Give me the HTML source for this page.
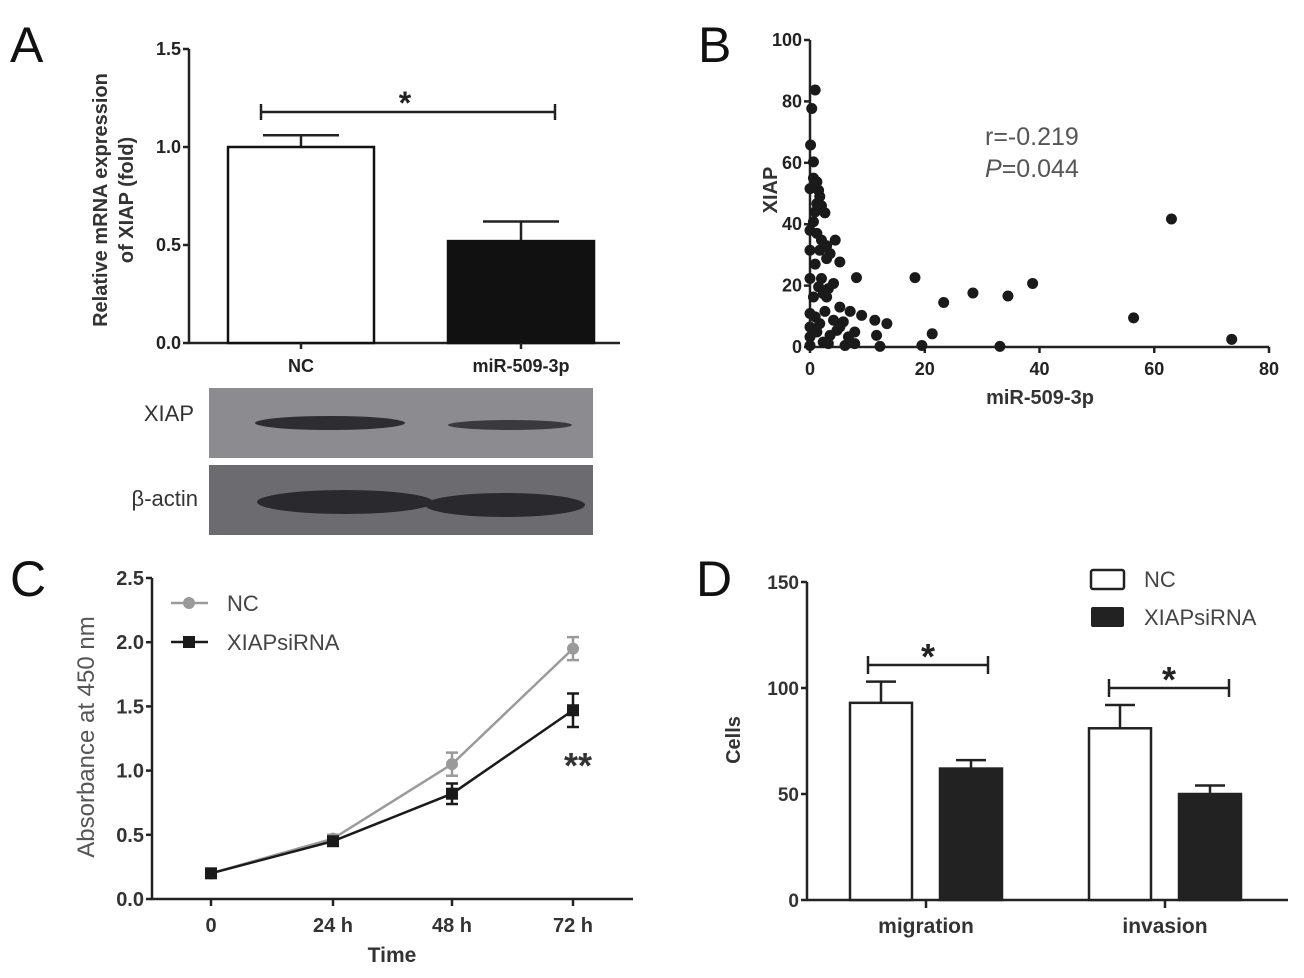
<!DOCTYPE html>
<html><head><meta charset="utf-8"><style>
html,body{margin:0;padding:0;background:#fff;}
svg{display:block;font-family:"Liberation Sans",Arial,sans-serif;}
.tk{font-size:18px;font-weight:bold;fill:#222;}
.ax{stroke:#222;stroke-width:2.5;fill:none;}
</style></head><body>
<svg id="fig" width="1304" height="978" viewBox="0 0 1304 978">
<g id="pA"></g>
<g id="pB"></g>
<g id="pC"></g>
<g id="pD"></g>
<g>
  <rect x="209" y="388" width="384" height="70" fill="#8c8c90"/>
  <ellipse cx="330" cy="423" rx="75" ry="7" fill="#2e2e32"/>
  <ellipse cx="510" cy="425" rx="62" ry="5" fill="#3a3a3e"/>
  <rect x="209" y="465" width="384" height="70" fill="#6c6c70"/>
  <ellipse cx="345" cy="502" rx="88" ry="12" fill="#2a2a2e"/>
  <ellipse cx="505" cy="505" rx="80" ry="12" fill="#2a2a2e"/>
  <text x="194" y="421" font-size="22" fill="#333" text-anchor="end">XIAP</text>
  <text x="198" y="506" font-size="22" fill="#333" text-anchor="end">β-actin</text>
</g>
</svg>
<script>
// ---------- Panel A data ----------
const aCats = ["NC", "miR-509-3p"];
const aVals = [1.0, 0.52];
const aErrs = [0.06, 0.10];
const aTicks = [0.0, 0.5, 1.0, 1.5];
// ---------- Panel B data ----------
const bX = [0.9,0.3,0.1,0.6,0.6,1.2,0,1.5,1.7,1.2,2,2.6,0.9,0.6,0,1.2,4.4,2,2.9,0,1.7,3.5,0.9,5.2,2.9,8.1,18.3,0,2,4.1,3.2,0.6,2.3,38.8,28.4,34.5,23.3,56.4,73.5,63,5.2,2.6,0,7,9,11.3,13.4,4.1,1.7,0,5.2,21.3,11.6,7.8,6.7,3.5,1.2,0,2.3,6.1,7.8,12.2,19.5,33.1,0,3.2,4.7,5.8,0.9,2.9,1.5];
const bY = [83.7,77.7,65.8,60.3,55,53.8,51.6,51,49,46.7,46,43.7,44,40.8,38,37,34.8,34.8,33,31.5,31.5,30.4,27,27.7,28.8,22.6,22.6,22.3,22.3,20.7,19,16.3,17.4,20.7,17.6,16.6,14.5,9.5,2.5,41.7,13,11.6,10.9,11.6,10.3,8.7,7.6,8.7,7.6,6.5,6.5,4.3,3.8,4.9,3.3,3.8,4.9,3.3,1.6,0.5,1.1,0.2,0.5,0.2,0.5,1.1,5.4,8.2,9.8,16.3,19.6];
const bXTicks = [0,20,40,60,80];
const bYTicks = [0,20,40,60,80,100];
// ---------- Panel C data ----------
const cCats = ["0","24 h","48 h","72 h"];
const cNC = [0.2,0.47,1.05,1.95];
const cNCErr = [0.01,0.03,0.09,0.09];
const cSi = [0.2,0.45,0.82,1.47];
const cSiErr = [0.01,0.03,0.08,0.13];
const cTicks = [0.0,0.5,1.0,1.5,2.0,2.5];
// ---------- Panel D data ----------
const dCats = ["migration","invasion"];
const dNC = [93,81];
const dNCErr = [10,11];
const dSi = [62,50];
const dSiErr = [4,4];
const dTicks = [0,50,100,150];

const NS="http://www.w3.org/2000/svg";
function mk(parent,tag,attrs,text){const e=document.createElementNS(NS,tag);for(const k in attrs)e.setAttribute(k,attrs[k]);if(text!==undefined)e.textContent=text;parent.appendChild(e);return e;}

// ===== Panel A =====
(function(){
const g=document.getElementById('pA');
const y=v=>343-v*(294/1.5);
const x0=189,x1=620;
let t=mk(g,'text',{x:10,y:62,'font-size':50,fill:'#111'},'A');


let l=mk(g,'path',{d:`M${x0},${y(1.5)} V${y(0)} H${x1}`,class:'ax'});


aTicks.forEach(v=>{
  let tk=mk(g,'line',{x1:x0-6,x2:x0,y1:y(v),y2:y(v),class:'ax'});
  
  
  let tl=mk(g,'text',{x:x0-8,y:y(v)+6,'text-anchor':'end',class:'tk'},v.toFixed(1));
  
  
});
const centers=[301,521],bw=146;
aCats.forEach((c,i)=>{
  const cx=centers[i];
  mk(g,'line',{x1:cx,x2:cx,y1:y(aVals[i]),y2:y(aVals[i]+aErrs[i]),class:'ax'});
  let eb=mk(g,'line',{x1:cx-38,x2:cx+38,y1:y(aVals[i]+aErrs[i]),y2:y(aVals[i]+aErrs[i]),class:'ax'});
  
  
  let r=mk(g,'rect',{x:cx-bw/2,y:y(aVals[i]),width:bw,height:y(0)-y(aVals[i]),fill:i?'#111':'#fff',stroke:'#111','stroke-width':2.5});
  
  
  let tl=mk(g,'text',{x:cx,y:372,'text-anchor':'middle',class:'tk'},c);
  
  
  mk(g,'line',{x1:cx,x2:cx,y1:y(0),y2:y(0)+6,class:'ax'});
});
let s=mk(g,'path',{d:'M261,104 V120 M261,112 H555 M555,104 V120',class:'ax'});


let st=mk(g,'text',{x:405,y:114,'text-anchor':'middle','font-size':32,'font-weight':'bold',fill:'#222'},'*');


let yt=mk(g,'text',{transform:'translate(107,200) rotate(-90)','text-anchor':'middle','font-size':20,'font-weight':'bold',fill:'#333'},'Relative mRNA expression');


let yt2=mk(g,'text',{transform:'translate(133,200) rotate(-90)','text-anchor':'middle','font-size':20,'font-weight':'bold',fill:'#333'},'of XIAP (fold)');


})();

// ===== Panel B =====
(function(){
const g=document.getElementById('pB');
const x=v=>810+v*(459/80), y=v=>347-v*(307/100);
let t=mk(g,'text',{x:698,y:62,'font-size':50,fill:'#111'},'B');


let a=mk(g,'path',{d:`M${x(0)},${y(100)} V${y(0)} H${x(80)}`,class:'ax'});


bYTicks.forEach(v=>{
  mk(g,'line',{x1:x(0)-6,x2:x(0),y1:y(v),y2:y(v),class:'ax'});
  let tl=mk(g,'text',{x:x(0)-8,y:y(v)+6,'text-anchor':'end',class:'tk'},v);
  
  
});
bXTicks.forEach(v=>{
  mk(g,'line',{x1:x(v),x2:x(v),y1:y(0),y2:y(0)+6,class:'ax'});
  let tl=mk(g,'text',{x:x(v),y:375,'text-anchor':'middle',class:'tk'},v);
  
  
});
bX.forEach((v,i)=>{
  let c=mk(g,'circle',{cx:x(v),cy:y(bY[i]),r:5.5,fill:'#1a1a1a'});
  
  
});
let xt=mk(g,'text',{x:1040,y:404,'text-anchor':'middle','font-size':20,'font-weight':'bold',fill:'#333'},'miR-509-3p');


let ytt=mk(g,'text',{transform:'translate(777,190) rotate(-90)','text-anchor':'middle','font-size':20,'font-weight':'bold',fill:'#333'},'XIAP');


let r1=mk(g,'text',{x:985,y:145,'font-size':25,fill:'#555'},'r=-0.219');


let r2=mk(g,'text',{x:985,y:177,'font-size':25,fill:'#555'});


mk(r2,'tspan',{'font-style':'italic'},'P');
mk(r2,'tspan',{},'=0.044');
})();

// ===== Panel C =====
(function(){
const g=document.getElementById('pC');
const xs=[211,333,452,573];
const y=v=>899-v*(321/2.5);
let t=mk(g,'text',{x:10,y:596,'font-size':50,fill:'#111'},'C');


let a=mk(g,'path',{d:`M152,${y(2.5)} V${y(0)} H633`,class:'ax'});


cTicks.forEach(v=>{
  mk(g,'line',{x1:146,x2:152,y1:y(v),y2:y(v),class:'ax'});
  let tl=mk(g,'text',{x:144,y:y(v)+7,'text-anchor':'end','font-size':20,'font-weight':'bold',fill:'#333'},v.toFixed(1));
  
  
});
cCats.forEach((c,i)=>{
  mk(g,'line',{x1:xs[i],x2:xs[i],y1:y(0),y2:y(0)+7,class:'ax'});
  let tl=mk(g,'text',{x:xs[i],y:932,'text-anchor':'middle','font-size':20,'font-weight':'bold',fill:'#333'},c);
  
  
});
function series(vals,errs,col,sq,name){
  let p=mk(g,'polyline',{points:vals.map((v,i)=>xs[i]+','+y(v)).join(' '),fill:'none',stroke:col,'stroke-width':2.5});
  
  
  vals.forEach((v,i)=>{
    let e=mk(g,'path',{d:`M${xs[i]-6},${y(v+errs[i])} H${xs[i]+6} M${xs[i]},${y(v+errs[i])} V${y(v-errs[i])} M${xs[i]-6},${y(v-errs[i])} H${xs[i]+6}`,stroke:col,'stroke-width':2.5,fill:'none'});
    
    
    let m=sq?mk(g,'rect',{x:xs[i]-6,y:y(v)-6,width:12,height:12,fill:col}):mk(g,'circle',{cx:xs[i],cy:y(v),r:6,fill:col});
    
    
  });
}
series(cNC,cNCErr,'#9a9a9a',false,'c-nc');
series(cSi,cSiErr,'#1a1a1a',true,'c-sirna');
let l1=mk(g,'path',{d:'M171,603 H208',stroke:'#9a9a9a','stroke-width':2.5});


mk(g,'circle',{cx:189,cy:603,r:6,fill:'#9a9a9a'});
let lt1=mk(g,'text',{x:227,y:611,'font-size':22,fill:'#444'},'NC');


let l2=mk(g,'path',{d:'M171,642 H208',stroke:'#1a1a1a','stroke-width':2.5});


mk(g,'rect',{x:183,y:636,width:12,height:12,fill:'#1a1a1a'});
let lt2=mk(g,'text',{x:227,y:650,'font-size':22,fill:'#444'},'XIAPsiRNA');


let st=mk(g,'text',{x:578,y:778,'text-anchor':'middle','font-size':36,'font-weight':'bold',fill:'#333'},'**');


let xt=mk(g,'text',{x:392,y:962,'text-anchor':'middle','font-size':21,'font-weight':'bold',fill:'#333'},'Time');


let yt=mk(g,'text',{transform:'translate(94,737) rotate(-90)','text-anchor':'middle','font-size':24,fill:'#555'},'Absorbance at 450 nm');


})();

// ===== Panel D =====
(function(){
const g=document.getElementById('pD');
const y=v=>900-v*(318/150);
const cx=[926,1165], off=45, bw=62;
let t=mk(g,'text',{x:696,y:596,'font-size':50,fill:'#111'},'D');


let a=mk(g,'path',{d:`M807,${y(150)} V${y(0)} H1288`,class:'ax'});


dTicks.forEach(v=>{
  mk(g,'line',{x1:801,x2:807,y1:y(v),y2:y(v),class:'ax'});
  let tl=mk(g,'text',{x:799,y:y(v)+7,'text-anchor':'end','font-size':19,'font-weight':'bold',fill:'#333'},v);
  
  
});
dCats.forEach((c,i)=>{
  mk(g,'line',{x1:cx[i],x2:cx[i],y1:y(0),y2:y(0)+8,class:'ax'});
  let tl=mk(g,'text',{x:cx[i],y:933,'text-anchor':'middle','font-size':21,'font-weight':'bold',fill:'#333'},c);
  
  
  [[dNC,dNCErr,-off,'#fff','nc'],[dSi,dSiErr,off,'#222','sirna']].forEach(([vals,errs,o,f,n])=>{
    const bx=cx[i]+o;
    let e=mk(g,'path',{d:`M${bx},${y(vals[i])} V${y(vals[i]+errs[i])} M${bx-15},${y(vals[i]+errs[i])} H${bx+15}`,class:'ax'});
    
    
    let r=mk(g,'rect',{x:bx-bw/2,y:y(vals[i]),width:bw,height:y(0)-y(vals[i]),fill:f,stroke:'#222','stroke-width':2.5});
    
    
  });
});
[[868,988,665],[1109,1229,688]].forEach(([a1,a2,yy])=>{
  let s=mk(g,'path',{d:`M${a1},${yy-9} V${yy+9} M${a1},${yy} H${a2} M${a2},${yy-9} V${yy+9}`,class:'ax'});
  
  
  let st=mk(g,'text',{x:(a1+a2)/2,y:yy+4,'text-anchor':'middle','font-size':36,'font-weight':'bold',fill:'#222'},'*');
  
  
});
let b1=mk(g,'rect',{x:1091,y:570,width:33,height:19,fill:'#fff',stroke:'#222','stroke-width':2.5,rx:2});


let t1=mk(g,'text',{x:1144,y:587,'font-size':22,fill:'#444'},'NC');


let b2=mk(g,'rect',{x:1091,y:607,width:33,height:20,fill:'#222',rx:2});


let t2=mk(g,'text',{x:1144,y:625,'font-size':22,fill:'#444'},'XIAPsiRNA');


let yt=mk(g,'text',{transform:'translate(740,740) rotate(-90)','text-anchor':'middle','font-size':20,'font-weight':'bold',fill:'#333'},'Cells');


})();
</script>
</body></html>
